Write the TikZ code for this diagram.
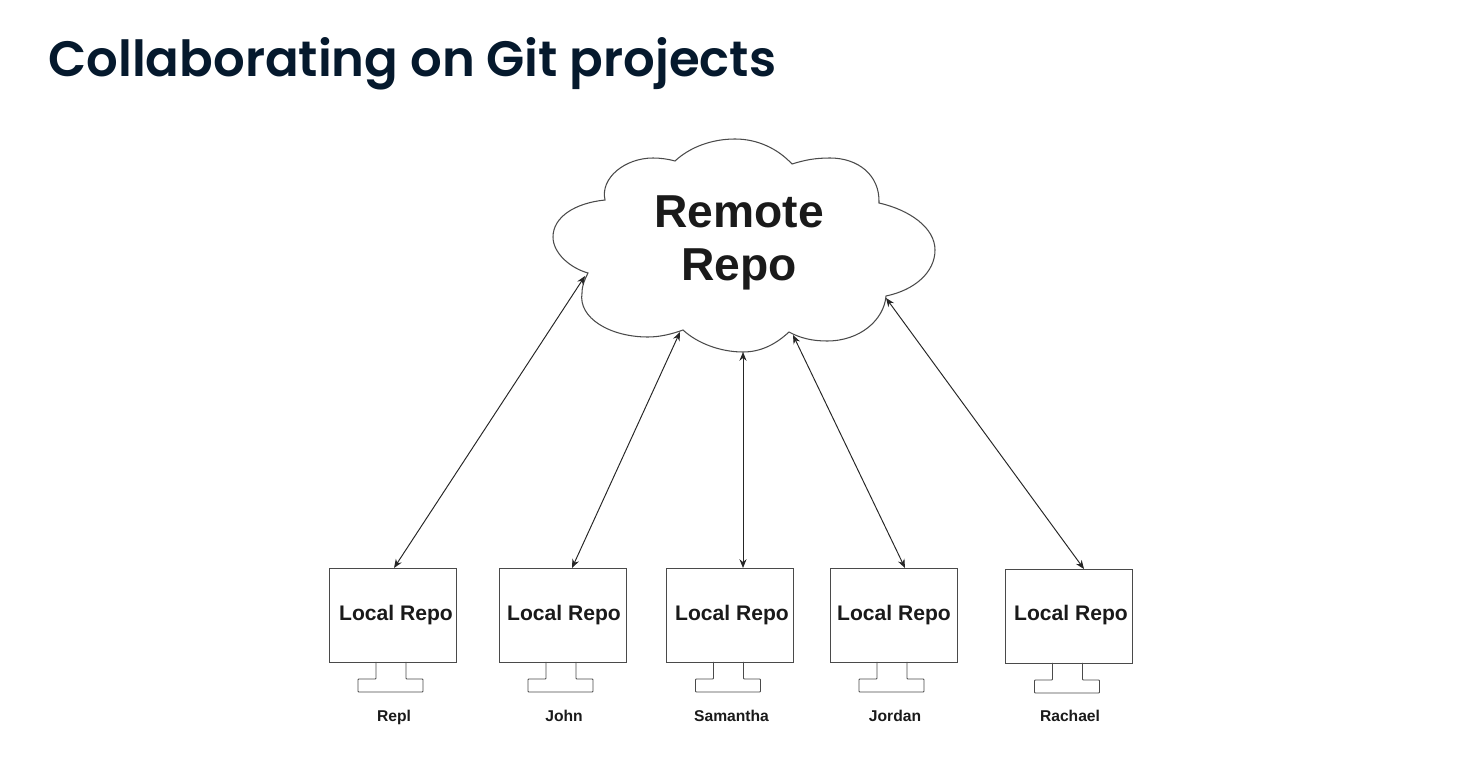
\documentclass[tikz,border=0pt]{standalone}
\usepackage{fontspec}
\setmainfont{Liberation Sans}
\newfontfamily\headfont{Poppins SemiBold}
\usetikzlibrary{calc}
\usetikzlibrary{arrows.meta}
\definecolor{headink}{HTML}{05192D}
\definecolor{lineink}{HTML}{4A4A4A}
\definecolor{textink}{HTML}{1A1A1A}

\begin{document}
\begin{tikzpicture}[
        x=0.02cm, y=-0.02cm,
        local-node/.style={rectangle,draw=lineink,line width=0.55pt,minimum width=2.54cm,minimum height=1.88cm,inner sep=0pt,outer sep=0pt},
        local-text/.style={text=textink,font=\fontsize{12}{14}\selectfont\bfseries,inner sep=0pt,anchor=base},
        name-text/.style={text=textink,font=\fontsize{8.9}{10}\selectfont\bfseries,inner sep=0pt,anchor=base},
        link/.style={{Stealth[length=5pt,width=4pt]}-{Stealth[length=5pt,width=4pt]},draw=black!85,line width=0.55pt},
        stand/.pic={
            \draw[draw=lineink,line width=0.55pt,rounded corners=0.4pt] (-16.5,0) -- (-16.5,17) -- (-34.5,17) -- (-34.5,30) -- (30.5,30) -- (30.5,17) -- (13.5,17) -- (13.5,0);
        }
    ]
        \useasboundingbox (0,0) rectangle (1480,760);

        \node[text=headink,font=\fontsize{28.3}{32}\selectfont\headfont,anchor=west,inner sep=0pt] (title) at (48,63.5) {Collaborating on Git projects};

        % cloud outline
        \draw[draw=lineink,line width=0.6pt]
            (675,161) .. controls (690,147) and (712,139) .. (735,139)
            .. controls (758,139) and (778,149) .. (792,164)
            .. controls (805,160) and (815,158) .. (830,158)
            .. controls (858,158) and (880,175) .. (879,203)
            .. controls (910,210) and (935,228) .. (935,250)
            .. controls (935,272) and (915,290) .. (886,296)
            .. controls (884,320) and (860,341) .. (827,341)
            .. controls (812,341) and (800,338) .. (789,332)
            .. controls (775,345) and (760,352) .. (743,352)
            .. controls (720,352) and (697,343) .. (683,330)
            .. controls (672,334) and (660,337) .. (648,337)
            .. controls (610,337) and (578,318) .. (582,293)
            .. controls (582,285) and (585,279) .. (588,273)
            .. controls (570,268) and (553,253) .. (553,237)
            .. controls (553,217) and (575,203) .. (605,200)
            .. controls (600,178) and (625,158) .. (653,158)
            .. controls (660,158) and (668,159) .. cycle;
        \node[text=textink,font=\fontsize{26.3}{30.6}\selectfont\bfseries,align=center,inner sep=0pt] (remote) at (739,243) {Remote\\Repo};

        \coordinate (port1) at (585,276);
        \coordinate (port2) at (680,332);
        \coordinate (port3) at (743,352);
        \coordinate (port4) at (793,335);
        \coordinate (port5) at (886,298);

        \node[local-node] (repl)     at (392.5,615) {};
        \node[local-node] (john)     at (562.5,615) {};
        \node[local-node] (samantha) at (730,615) {};
        \node[local-node] (jordan)   at (893.5,615) {};
        \node[local-node] (rachael)  at (1069,616) {};

        \node[local-text] (repl-text)     at (396,620) {Local Repo};
        \node[local-text] (john-text)     at (564,620) {Local Repo};
        \node[local-text] (samantha-text) at (732,620) {Local Repo};
        \node[local-text] (jordan-text)   at (894,620) {Local Repo};
        \node[local-text] (rachael-text)  at (1071,620) {Local Repo};

        \pic at (repl.south) {stand};
        \pic at (john.south) {stand};
        \pic at (samantha.south) {stand};
        \pic at (jordan.south) {stand};
        \pic at (rachael.south) {stand};

        \node[name-text] (repl-name)     at (394,721) {Repl};
        \node[name-text] (john-name)     at (564,721) {John};
        \node[name-text] (samantha-name) at (731.5,721) {Samantha};
        \node[name-text] (jordan-name)   at (895,721) {Jordan};
        \node[name-text] (rachael-name)  at (1070,721) {Rachael};

        \draw[link] (port1) -- ($(repl.north)+(1.5,0)$);
        \draw[link] (port2) -- ($(john.north)+(9.5,0)$);
        \draw[link] (port3) -- ($(samantha.north)+(13,0)$);
        \draw[link] (port4) -- ($(jordan.north)+(11.5,0)$);
        \draw[link] (port5) -- ($(rachael.north)+(15,0)$);
    \end{tikzpicture}
\end{document}
